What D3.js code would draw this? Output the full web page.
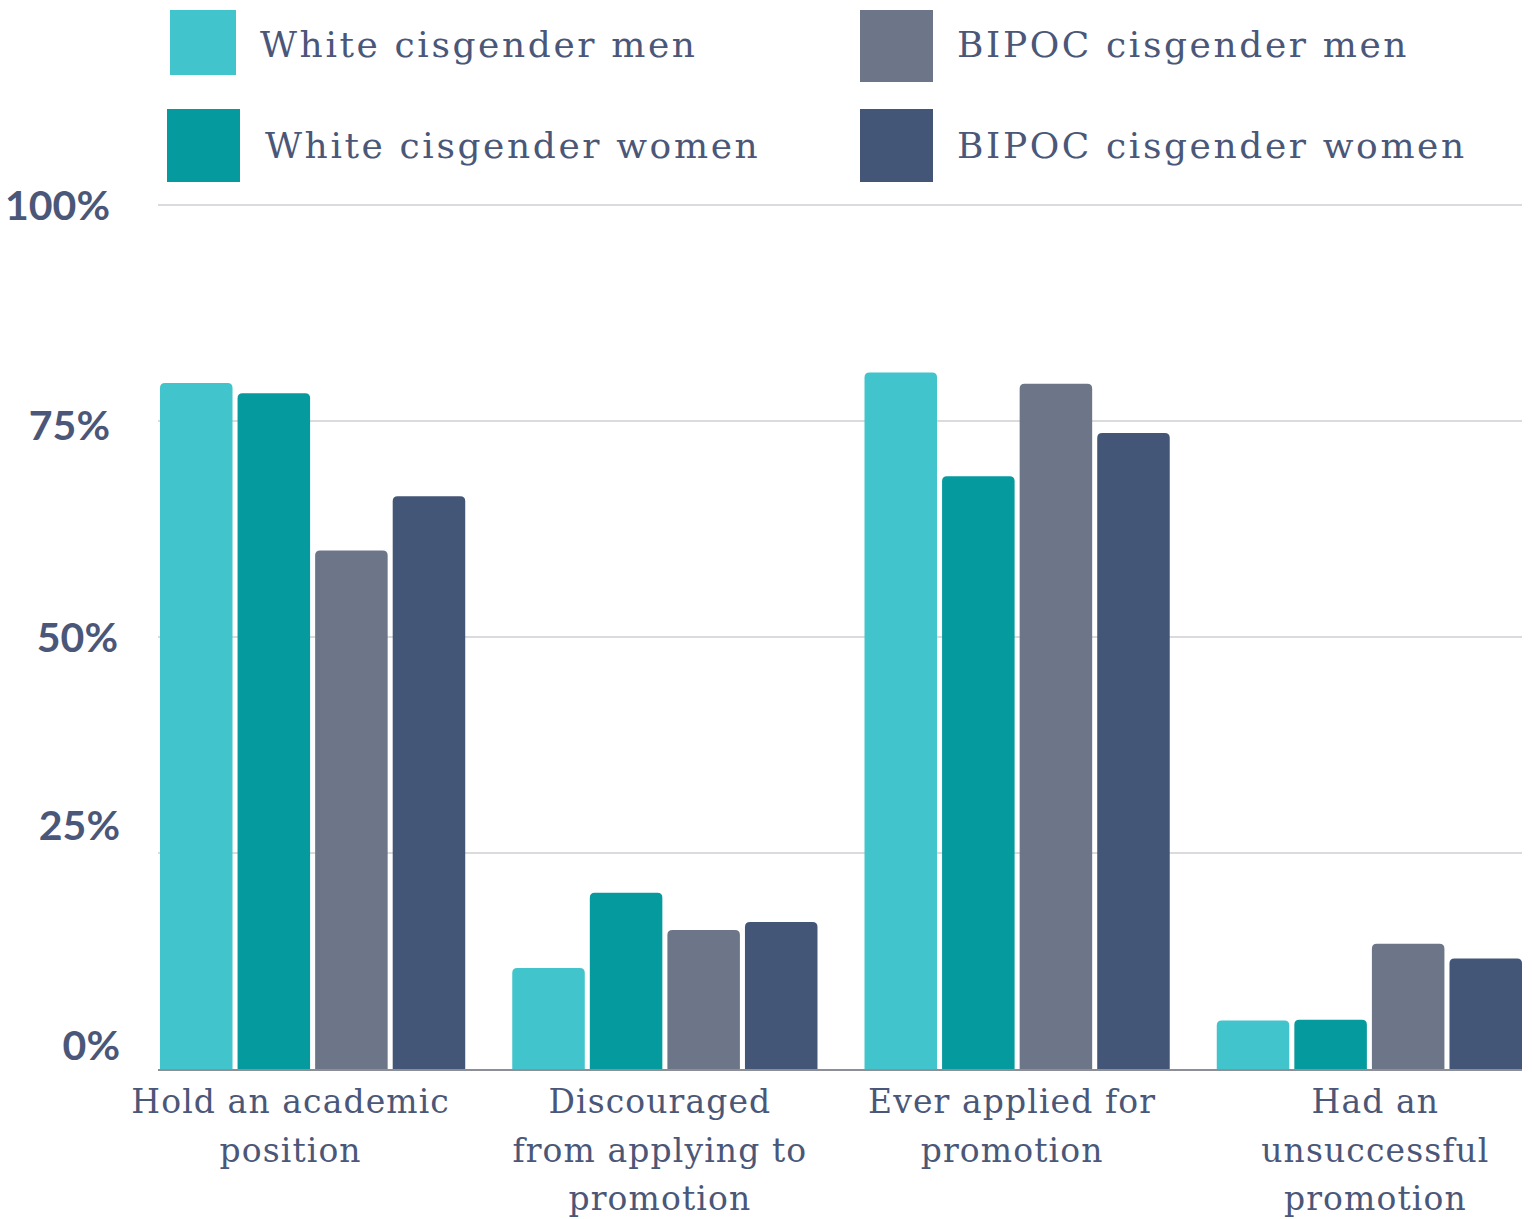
<!DOCTYPE html>
<html>
<head>
<meta charset="utf-8">
<script src="https://cdn.jsdelivr.net/npm/d3@7"></script>
<style>
  html, body { margin: 0; padding: 0; background: #ffffff; }
  svg { display: block; }
</style>
</head>
<body>
<svg id="chart" width="1533" height="1219"></svg>
<script>
// Survey categories (each label split into display lines)
const categories = [
  ["Hold an academic", "position"],
  ["Discouraged", "from applying to", "promotion"],
  ["Ever applied for", "promotion"],
  ["Had an", "unsuccessful", "promotion"]
];
const seriesNames = [
  "White cisgender men",
  "White cisgender women",
  "BIPOC cisgender men",
  "BIPOC cisgender women"
];
// Percent of respondents, one array per series, in category order
const whiteMen    = [79.4, 11.7, 80.6, 5.6];
const whiteWomen  = [78.2, 20.4, 68.6, 5.7];
const bipocMen    = [60.0, 16.1, 79.3, 14.5];
const bipocWomen  = [66.3, 17.0, 73.6, 12.8];
const yTicks      = [0, 25, 50, 75, 100];
const tickLabels  = ["0%", "25%", "50%", "75%", "100%"];

const seriesValues = [whiteMen, whiteWomen, bipocMen, bipocWomen];
const colors = ["#41c4cb", "#049a9e", "#6d7689", "#445678"];
const textColor = "#4b5778";
const serif = "'DejaVu Serif', serif";

const svg = d3.select("#chart");

const x0 = d3.scaleBand()
  .domain(d3.range(categories.length))
  .range([160, 1522])
  .paddingInner(0.1335)
  .paddingOuter(0);

const x1 = d3.scaleBand()
  .domain(d3.range(seriesNames.length))
  .range([0, x0.bandwidth()])
  .paddingInner(0.065)
  .paddingOuter(0);

const y = d3.scaleLinear().domain([0, 100]).range([1069, 205]);

// Gridlines
svg.append("g")
  .selectAll("line")
  .data(yTicks.filter(t => t > 0))
  .join("line")
  .attr("x1", 158).attr("x2", 1522)
  .attr("y1", d => y(d)).attr("y2", d => y(d))
  .attr("stroke", "#cfcfd4")
  .attr("stroke-width", 1.5);

// Y tick labels (slight vertical nudges per tick)
const tickNudge = { 0: -24, 25: -28, 50: 0, 75: 4, 100: 0 };
const tickRight = { 0: 120, 25: 120, 50: 118, 75: 110, 100: 110 };
svg.append("g")
  .selectAll("text")
  .data(yTicks)
  .join("text")
  .attr("x", d => tickRight[d])
  .attr("y", d => y(d) + tickNudge[d])
  .attr("dy", "0.36em")
  .attr("text-anchor", "end")
  .attr("font-family", "Lato, sans-serif")
  .attr("font-weight", 700)
  .attr("font-size", 41)
  .attr("fill", textColor)
  .text((d, i) => tickLabels[i]);

// Bars with rounded top corners
function topRoundedRect(x, yTop, w, h, r) {
  r = Math.min(r, w / 2, h);
  return `M${x},${yTop + h}V${yTop + r}Q${x},${yTop} ${x + r},${yTop}` +
         `H${x + w - r}Q${x + w},${yTop} ${x + w},${yTop + r}V${yTop + h}Z`;
}

const groups = svg.append("g")
  .selectAll("g")
  .data(categories)
  .join("g")
  .attr("transform", (d, i) => `translate(${x0(i)},0)`);

groups.selectAll("path")
  .data((d, ci) => seriesValues.map((vals, si) => ({ si, v: vals[ci] })))
  .join("path")
  .attr("fill", d => colors[d.si])
  .attr("d", d => topRoundedRect(x1(d.si), y(d.v), x1.bandwidth(), y(0) - y(d.v), 5));

// Baseline
svg.append("line")
  .attr("x1", 158).attr("x2", 1522)
  .attr("y1", y(0) + 1).attr("y2", y(0) + 1)
  .attr("stroke", "#8d8f96")
  .attr("stroke-width", 2);

// Category labels (small horizontal nudge per group)
const labelNudge = [-22, -5, -5, 6];
groups.append("text")
  .attr("text-anchor", "middle")
  .attr("font-family", serif)
  .attr("font-size", 33)
  .attr("letter-spacing", 1.1)
  .attr("fill", textColor)
  .each(function (d, gi) {
    d3.select(this).selectAll("tspan")
      .data(d)
      .join("tspan")
      .attr("x", x0.bandwidth() / 2 + labelNudge[gi])
      .attr("y", (t, i) => 1113 + i * 48.5)
      .text(t => t);
  });

// Legend
const legendItems = [
  { i: 0, sx: 170, sy: 10, sw: 66, sh: 65, tx: 260, ty: 57 },
  { i: 1, sx: 167, sy: 109, sw: 73, sh: 73, tx: 265, ty: 158 },
  { i: 2, sx: 860, sy: 10, sw: 73, sh: 72, tx: 957, ty: 57 },
  { i: 3, sx: 860, sy: 109, sw: 73, sh: 73, tx: 957, ty: 158 }
];
const legend = svg.append("g");
legend.selectAll("rect")
  .data(legendItems)
  .join("rect")
  .attr("x", d => d.sx).attr("y", d => d.sy)
  .attr("width", d => d.sw).attr("height", d => d.sh)
  .attr("fill", d => colors[d.i]);
legend.selectAll("text")
  .data(legendItems)
  .join("text")
  .attr("x", d => d.tx).attr("y", d => d.ty)
  .attr("font-family", serif)
  .attr("font-size", 36)
  .attr("letter-spacing", 2.6)
  .attr("fill", textColor)
  .text(d => seriesNames[d.i]);
</script>
</body>
</html>
